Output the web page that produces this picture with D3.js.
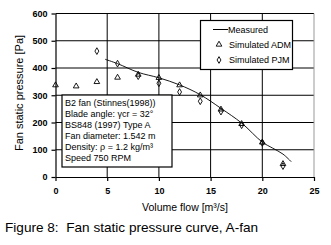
<!DOCTYPE html>
<html lang='en'>
	<head>
		<meta charset='utf-8'>
		<title>Fan static pressure curve</title>
		<script type='text/javascript' src='https://cdn.jsdelivr.net/npm/d3@7'></script>
		<style>
			body { margin: 0; background: #fff; }
			text { font-family: 'Liberation Sans', Arial, sans-serif; fill: #000; }
		</style>
	</head>
	<body>
		<script type='text/javascript'>
			// data
			var measured_x = [4.8, 6, 8, 10, 12, 14, 16, 18, 20, 21, 22, 22.8];
			var measured_y = [432, 416, 384, 364, 338, 302, 252, 198, 128, 106, 84, 56];
			var adm_x = [0, 2, 4, 6, 8, 10, 12, 14, 16, 18, 20, 22];
			var adm_y = [337, 333, 349, 365, 376, 364, 337, 300, 248, 195, 127, 48];
			var pjm_x = [4, 6, 8, 10, 12, 14, 16, 18, 20, 22];
			var pjm_y = [462, 416, 370, 344, 312, 278, 240, 190, 125, 40];
			var x_ticks = [0, 5, 10, 15, 20, 25];
			var y_ticks = [0, 100, 200, 300, 400, 500, 600];
			var info_lines = ['B2 fan (Stinnes(1998))', 'Blade angle: \u03b3cr = 32\u00b0', 'BS848 (1997) Type A',
				'Fan diameter: 1.542 m', 'Density: \u03c1 = 1.2 kg/m\u00b3', 'Speed 750 RPM'];
			var legend_labels = ['Measured', 'Simulated ADM', 'Simulated PJM'];

			var width = 331, height = 245;
			var svg = d3.select('body').append('svg').attr('width', width).attr('height', height);

			var x = d3.scaleLinear().domain([0, 25]).range([55.5, 314]);
			var y = d3.scaleLinear().domain([0, 600]).range([177, 13.5]);

			// grid
			svg.append('g').selectAll('line').data(y_ticks.slice(1)).enter().append('line')
				.attr('x1', x(0)).attr('x2', x(25)).attr('y1', d => y(d)).attr('y2', d => y(d))
				.attr('stroke', '#000').attr('stroke-width', 1);
			svg.append('g').selectAll('line').data(x_ticks.slice(1, -1)).enter().append('line')
				.attr('x1', d => x(d)).attr('x2', d => x(d)).attr('y1', y(0)).attr('y2', y(600))
				.attr('stroke', '#000').attr('stroke-width', 1);
			svg.append('line').attr('x1', x(25)).attr('x2', x(25)).attr('y1', y(0)).attr('y2', y(600))
				.attr('stroke', '#999').attr('stroke-width', 1);

			// axes
			var x_axis = svg.append('g').attr('transform', 'translate(0,' + y(0) + ')')
				.call(d3.axisBottom(x).tickValues(x_ticks).tickSize(4).tickSizeOuter(0).tickPadding(7));
			var y_axis = svg.append('g').attr('transform', 'translate(' + x(0) + ',0)')
				.call(d3.axisLeft(y).tickValues(y_ticks).tickSize(4).tickSizeOuter(0).tickPadding(4));
			[x_axis, y_axis].forEach(function(a) {
				a.selectAll('path, line').attr('stroke', '#000').attr('stroke-width', 1.2);
				a.selectAll('text').attr('font-size', 9).attr('font-weight', 'bold')
					.attr('font-family', "'Liberation Sans', Arial, sans-serif");
			});

			// info box
			svg.append('rect').attr('x', 62).attr('y', 95).attr('width', 110).attr('height', 72)
				.attr('fill', '#fff').attr('stroke', '#000').attr('stroke-width', 1.2);
			svg.append('g').selectAll('text').data(info_lines).enter().append('text')
				.attr('x', 65).attr('y', (d, i) => 106 + i * 11)
				.attr('font-size', 9).text(d => d);

			// measured line
			var line = d3.line().x(d => x(d[0])).y(d => y(d[1])).curve(d3.curveCatmullRom);
			svg.append('path').datum(d3.zip(measured_x, measured_y)).attr('d', line)
				.attr('fill', 'none').attr('stroke', '#000').attr('stroke-width', 0.9);

			var tri = d3.symbol().type(d3.symbolTriangle).size(14);
			var dia = d3.symbol().type(d3.symbolDiamond).size(13);
			svg.append('g').selectAll('path').data(d3.zip(adm_x, adm_y)).enter().append('path')
				.attr('d', tri).attr('transform', d => 'translate(' + x(d[0]) + ',' + y(d[1]) + ')')
				.attr('fill', 'none').attr('stroke', '#000').attr('stroke-width', 0.9);
			svg.append('g').selectAll('path').data(d3.zip(pjm_x, pjm_y)).enter().append('path')
				.attr('d', dia).attr('transform', d => 'translate(' + x(d[0]) + ',' + y(d[1]) + ')')
				.attr('fill', 'none').attr('stroke', '#000').attr('stroke-width', 0.9);

			// legend
			var lg = svg.append('g');
			lg.append('rect').attr('x', 200.5).attr('y', 20.5).attr('width', 92).attr('height', 49)
				.attr('fill', '#fff').attr('stroke', '#000').attr('stroke-width', 1.2);
			lg.append('line').attr('x1', 213).attr('x2', 228).attr('y1', 29.5).attr('y2', 29.5)
				.attr('stroke', '#000').attr('stroke-width', 1);
			lg.append('path').attr('d', tri).attr('transform', 'translate(219,44.5)')
				.attr('fill', 'none').attr('stroke', '#000').attr('stroke-width', 0.9);
			lg.append('path').attr('d', dia).attr('transform', 'translate(219,60)')
				.attr('fill', 'none').attr('stroke', '#000').attr('stroke-width', 0.9);
			lg.selectAll('text.lab').data(legend_labels).enter().append('text')
				.attr('x', (d, i) => i == 0 ? 228 : 229).attr('y', (d, i) => [32.5, 47.5, 63][i])
				.attr('font-size', 9).text(d => d);

			// axis titles
			svg.append('text').attr('transform', 'translate(23,93) rotate(-90)')
				.attr('text-anchor', 'middle').attr('font-size', 11).text('Fan static pressure [Pa]');
			svg.append('text').attr('x', 185).attr('y', 211)
				.attr('text-anchor', 'middle').attr('font-size', 10.5).text('Volume flow [m\u00b3/s]');

			// caption
			svg.append('text').attr('x', 5).attr('y', 232).attr('font-size', 13.6)
				.attr('xml:space', 'preserve').style('white-space', 'pre')
				.text('Figure 8:  Fan static pressure curve, A-fan');
		</script>
	</body>
</html>
